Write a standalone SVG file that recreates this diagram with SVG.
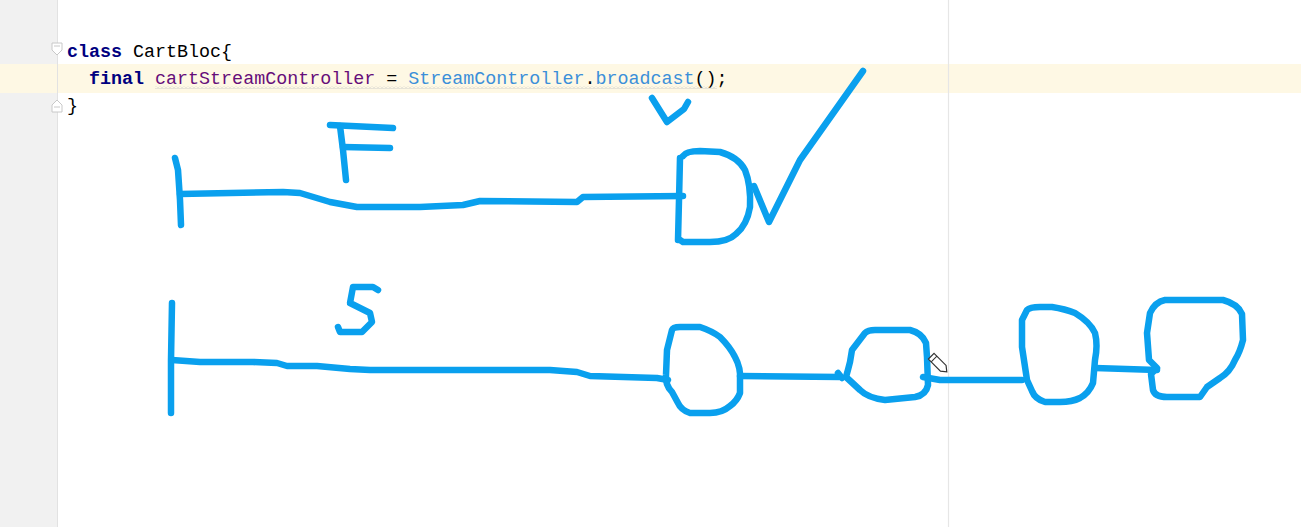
<svg xmlns="http://www.w3.org/2000/svg" width="1301" height="527" viewBox="0 0 1301 527">
  <style>
    .code { font-family: "Liberation Mono", "DejaVu Sans Mono", monospace; font-size: 18.35px; fill: #000000; }
    .kw { fill: #000080; font-weight: bold; }
    .field { fill: #660e7a; }
    .call { fill: #3b8fd9; }
    .ink { fill: none; stroke: #0aa0ee; stroke-width: 6.5; stroke-linecap: round; stroke-linejoin: round; }
    .fold { fill: #ffffff; stroke: #c8c8c8; stroke-width: 1; }
  </style>
  <defs>
    <pattern id="wave" x="0" y="0" width="4" height="3" patternUnits="userSpaceOnUse">
      <path d="M0,2.5 L2,0.5 L4,2.5" fill="none" stroke="#c4c4c4" stroke-width="0.8"/>
    </pattern>
  </defs>

  <!-- editor background -->
  <rect x="0" y="0" width="1301" height="527" fill="#ffffff"/>
  <rect x="0" y="0" width="57" height="527" fill="#f1f1f1"/>
  <rect x="0" y="64" width="1301" height="29" fill="#fef8e4"/>
  <line x1="57.5" y1="0" x2="57.5" y2="527" stroke="#e2e2e2" stroke-width="1"/>
  <line x1="948.5" y1="0" x2="948.5" y2="527" stroke="#e6e6e6" stroke-width="1.2"/>

  <!-- fold markers -->
  <g id="folds">
    <path class="fold" d="M52,43 L62,43 L62,50 L57,55 L52,50 Z"/>
    <line x1="54" y1="46" x2="60" y2="46" stroke="#c8c8c8" stroke-width="1"/>
    <path class="fold" d="M52,112 L62,112 L62,105 L57,100 L52,105 Z"/>
    <line x1="54" y1="107" x2="60" y2="107" stroke="#c8c8c8" stroke-width="1"/>
  </g>

  <!-- code -->
  <g id="code">
    <text class="code" x="67" y="57"><tspan class="kw">class</tspan> CartBloc{</text>
    <text class="code" x="89" y="84"><tspan class="kw">final</tspan> <tspan class="field">cartStreamController</tspan> = <tspan class="call">StreamController</tspan>.<tspan class="call">broadcast</tspan>();</text>
    <text class="code" x="67" y="111">}</text>
    <rect x="155" y="86" width="562" height="3" fill="url(#wave)"/>
  </g>

  <!-- Future row -->
  <g id="future-start">
    <path class="ink" d="M175,158 L178,170 L180,200 L181,225"/>
  </g>
  <g id="label-F">
    <path class="ink" d="M330,125 L393,128"/>
    <path class="ink" d="M340,126 L343,150 L346,180"/>
    <path class="ink" d="M343,147 L390,148"/>
  </g>
  <g id="future-done">
    <path class="ink" d="M680,158 L679,200 L678,240"/>
    <path class="ink" d="M683,156 Q686,151 700,151 L720,152 Q738,157 745,170 Q751,185 750,207 Q747,225 736,234 Q728,242 710,242 L683,242 L680,240"/>
  </g>
  <g id="check-big">
    <path class="ink" d="M754,186 L769,222 L800,160 L863,71"/>
  </g>
  <g id="check-small">
    <path class="ink" d="M652,98 L667,122 L684,109 L688,102"/>
  </g>

  <!-- Stream row -->
  <g id="stream-start">
    <path class="ink" d="M172,303 L171,360 L171,413"/>
  </g>
  <g id="label-S">
    <path class="ink" d="M378,290 L373,287 L353,287 L350,303 L370,313 L372,322 L362,332 L340,332 L338,327"/>
  </g>
  <g id="event-1">
    <path class="ink" d="M672,330 Q673,327 680,327 L700,327 Q712,331 720,337 Q730,347 735,357 Q741,368 740,380 L740,393 Q737,401 730,406 Q722,413 710,413 L690,413 Q681,410 678,403 L672,392 Q665,385 666,375 L667,350 Z"/>
  </g>
  <g id="event-2">
    <path class="ink" d="M865,333 Q868,330 875,330 L910,330 Q922,333 926,343 L927,357 L928,385 Q926,395 915,397 L885,400 Q868,398 860,390 L846,377 Q848,370 850,362 L852,350 Z"/>
  </g>
  <g id="event-3">
    <path class="ink" d="M1027,310 Q1030,307 1040,307 L1052,307 Q1065,309 1075,313 Q1090,322 1095,333 Q1098,345 1095,360 L1093,383 Q1089,393 1080,398 Q1072,402 1060,402 L1045,402 Q1035,399 1032,391 L1027,380 L1022,347 L1022,320 Z"/>
  </g>
  <g id="event-4">
    <path class="ink" d="M1150,313 Q1155,302 1165,300 L1223,300 Q1238,304 1242,314 L1243,340 Q1240,352 1235,360 Q1230,372 1220,378 L1207,387 L1200,397 L1167,397 Q1155,397 1153,390 L1151,374 L1157,368 L1149,360 L1147,333 Z"/>
  </g>

  <!-- connectors -->
  <g id="connectors">
    <path class="ink" d="M180,194 L283,192 L300,193 L330,202 L357,207 L420,207 L463,205 L480,201 L577,202 L583,197 L683,196"/>
    <path class="ink" d="M172,360 L200,362 L253,362 L277,363 L287,366 L317,366 L350,369 L370,370 L550,370 L577,372 L590,376 L657,378 L668,380"/>
    <path class="ink" d="M740,376 L840,377 M838,373 L842,378"/>
    <path class="ink" d="M923,377 L940,380 L1022,380"/>
    <path class="ink" d="M1095,368 L1157,370"/>
  </g>

  <!-- pencil cursor -->
  <g id="cursor" transform="translate(939,364) rotate(45)">
    <path d="M-11,-4 L6,-4 L11,0 L6,4 L-11,4 Z" fill="#ffffff" stroke="#333333" stroke-width="1.2"/>
    <line x1="-7" y1="-4" x2="-7" y2="4" stroke="#333333" stroke-width="1"/>
  </g>
</svg>
